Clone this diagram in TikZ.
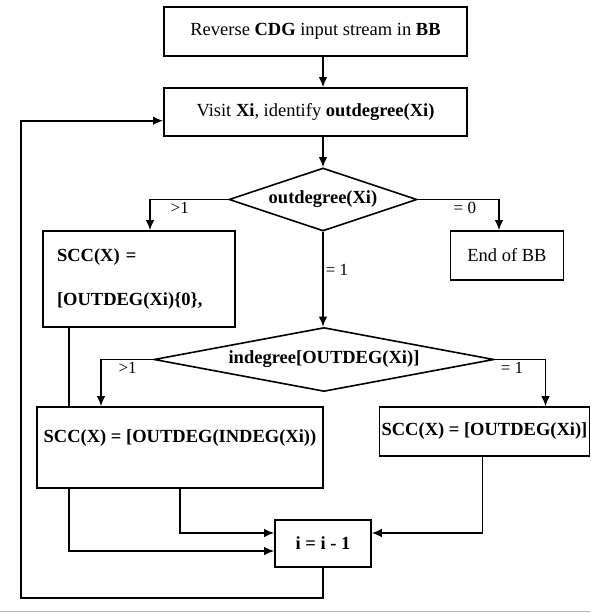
\documentclass[tikz,border=0pt]{standalone}
\usepackage{fontspec}
\setmainfont{Liberation Serif}
\usepackage{tikz}
\usetikzlibrary{arrows.meta, shapes.geometric, calc, backgrounds}

\begin{document}
\begin{tikzpicture}[
  x=1pt, y=-1pt,
  font=\fontsize{18.5}{22}\selectfont,
  line width=1.6pt,
  box/.style={draw, fill=white, rectangle, inner sep=2pt, align=center},
  cond/.style={draw, fill=white, diamond, inner sep=0pt, font=\fontsize{18.5}{22}\selectfont\bfseries},
  lbl/.style={font=\fontsize{17}{20}\selectfont, inner sep=2pt},
  arrow/.style={line width=1.6pt, -{Latex[length=10pt,width=8.5pt]}}
]
\useasboundingbox (0,0) rectangle (590,613);

\node[box, minimum width=303pt, minimum height=49pt] (rev) at (315.5,31.5) {Reverse \textbf{CDG} input stream in \textbf{BB}};
\node[box, minimum width=303pt, minimum height=48pt] (visit) at (315.5,112) {Visit \textbf{Xi}, identify \textbf{outdegree(Xi)}};

\node[cond, aspect=3, minimum width=188pt, minimum height=63pt] (deg) at (323,199.5) {outdegree(Xi)};
\node[box, font=\fontsize{18.5}{22}\selectfont\bfseries, align=left, inner xsep=14pt, text width=164pt, minimum height=96pt] (sccmany) at (139,279) {SCC(X) =\\[22.5pt][OUTDEG(Xi)\{0\},};
\node[box, minimum width=113pt, minimum height=49pt] (endbb) at (507,255.5) {End of BB};

\node[cond, aspect=5.3, minimum width=340pt, minimum height=64pt] (indeg) at (324,359.5) {indegree[OUTDEG(Xi)]};
\node[box, font=\fontsize{18.5}{22}\selectfont\bfseries, inner ysep=0pt, minimum width=286pt, text height=35pt, text depth=46pt] (sccin) at (180,447.5) {SCC(X) = [OUTDEG(INDEG(Xi))};
\node[box, font=\fontsize{18.5}{22}\selectfont\bfseries, minimum width=209pt, minimum height=49pt] (sccout) at (484.5,431.5) {SCC(X) = [OUTDEG(Xi)]};

\node[box, font=\fontsize{18.5}{22}\selectfont\bfseries, minimum width=96pt, minimum height=47pt] (dec) at (323,543.5) {i = i - 1};

\coordinate (loopcorner) at (20.7,598);

\begin{scope}[on background layer]
\draw[arrow] (rev.south -| deg.north) -- (visit.north -| deg.north);
\draw[arrow] (visit.south -| deg.north) -- (deg.north);
\draw[arrow] (deg.west) -| node[lbl, below, pos=0.31] {>1} ([xshift=11pt]sccmany.north);
\draw[arrow] (deg.east) -| node[lbl, below, pos=0.29] {= 0} ([xshift=-8pt]endbb.north);
\draw[arrow] (deg.south) -- node[lbl, right, pos=0.4] {= 1} (indeg.north -| deg.south);
\draw[arrow] (indeg.west) -| node[lbl, below, pos=0.245] {>1} ([xshift=-79pt]sccin.north);
\draw[arrow] (indeg.east) -| node[lbl, below, pos=0.17] {= 1} ([xshift=61pt]sccout.north);
\draw[arrow] ([xshift=-70pt]sccmany.south) |- ([yshift=-7.5pt]dec.west);
\draw[arrow] (sccin.south) |- ([yshift=10.5pt]dec.west);
\draw[arrow] ([xshift=-2pt]sccout.south) |- ([yshift=10.5pt]dec.east);
\draw[arrow] (dec.south) |- (loopcorner) |- ([yshift=-8.7pt]visit.west);
\end{scope}

% scan edge
\draw[gray!60, line width=1pt] (0,611.5) -- (590,611.5);
\end{tikzpicture}
\end{document}
